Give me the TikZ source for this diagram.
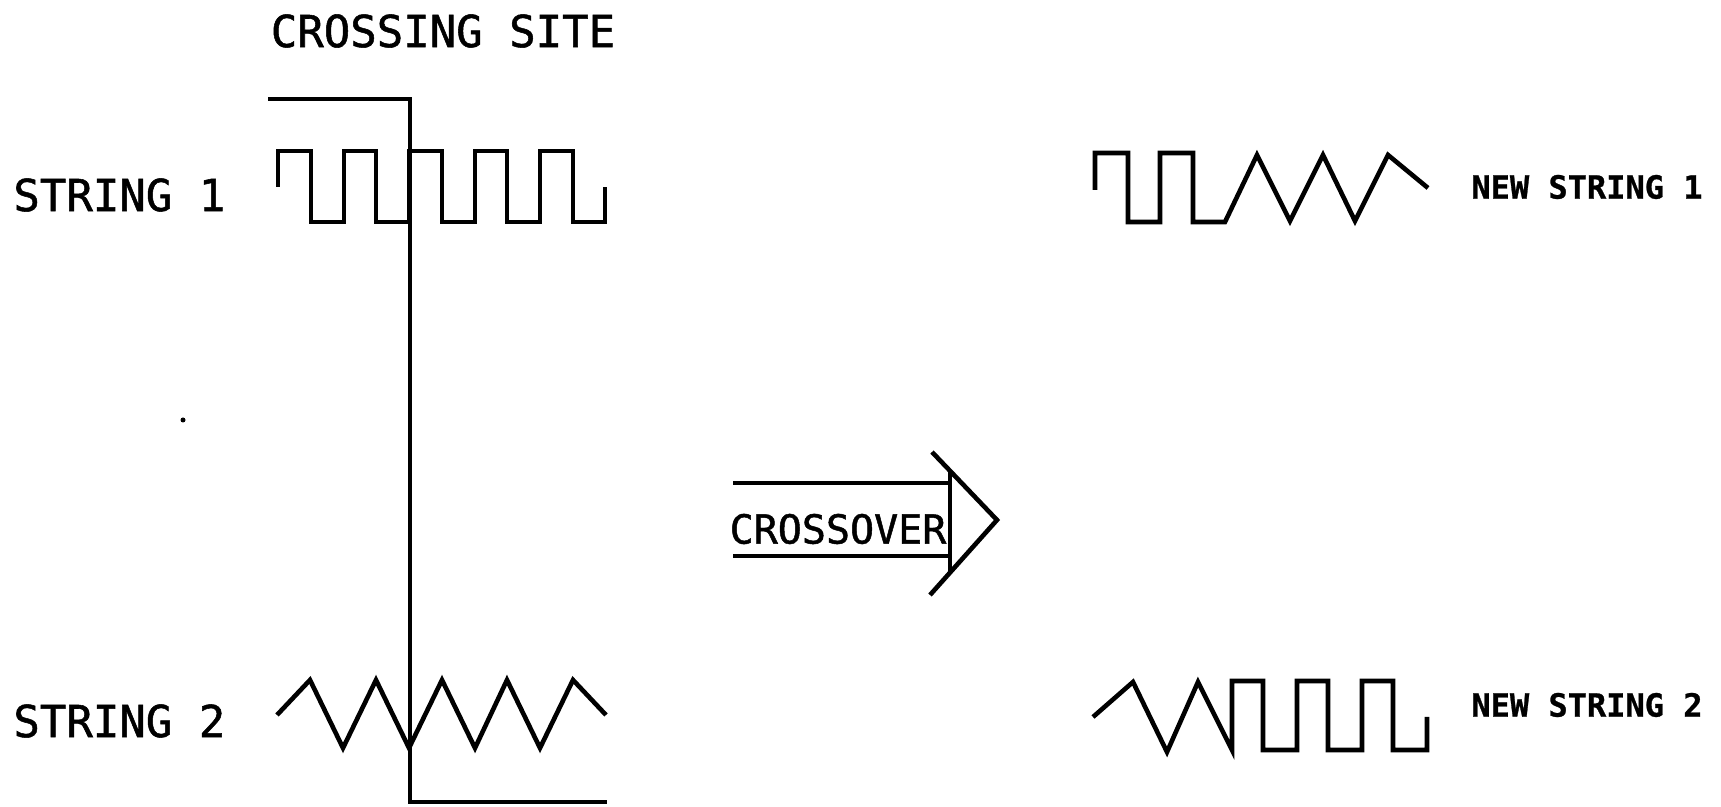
\documentclass[tikz,border=0pt]{standalone}
\usepackage{fontspec}
\newfontfamily\plotfont{DejaVu Sans Mono}[FakeBold=1.2]
\newfontfamily\plotbold{DejaVu Sans Mono Bold}[FakeBold=0.8]
\begin{document}
\begin{tikzpicture}[x=0.5pt,y=-0.5pt,
  wave/.style={line width=2.3pt,line join=miter},
  bigtext/.style={inner sep=0pt,font=\plotfont\fontsize{22}{26}\selectfont},
  arrowtext/.style={inner sep=0pt,font=\plotfont\fontsize{20}{24}\selectfont},
  smalltext/.style={inner sep=0pt,font=\plotbold\fontsize{16}{19}\selectfont}]
\useasboundingbox (0,0) rectangle (1721,807);
\fill[white] (0,0) rectangle (1721,807);

% labels
\node[bigtext] (site) at (443,31) {CROSSING SITE};
\node[bigtext,anchor=west] (s1) at (13,195) {STRING 1};
\node[bigtext,anchor=west] (s2) at (13,721) {STRING 2};
\node[smalltext,anchor=west] (n1) at (1471,187) {NEW STRING 1};
\node[smalltext,anchor=west] (n2) at (1471,705) {NEW STRING 2};

% crossing site marker
\coordinate (cA) at (268,99);
\coordinate (cB) at (410,99);
\coordinate (cC) at (410,802);
\coordinate (cD) at (607,802);
\draw[wave] (cA) -- (cB) -- (cC) -- (cD);

% string 1: square wave
\draw[wave] (278,187) -- (278,151) -- (311,151) -- (311,222) -- (344,222)
  -- (344,151) -- (376,151) -- (376,222) -- (409,222) -- (409,151)
  -- (442,151) -- (442,222) -- (475,222) -- (475,151) -- (507,151)
  -- (507,222) -- (540,222) -- (540,151) -- (573,151) -- (573,222)
  -- (605,222) -- (605,187);

% string 2: triangle wave
\draw[wave] (277,715) -- (310,680) -- (343,748) -- (376,680) -- (409,748)
  -- (442,680) -- (475,748) -- (507,680) -- (540,748) -- (573,680)
  -- (606,715);

% crossover arrow
\node[arrowtext] (xo) at (838,529) {CROSSOVER};
\coordinate (aT1) at (733,483);
\coordinate (aT2) at (950,483);
\coordinate (aB1) at (733,556);
\coordinate (aB2) at (950,556);
\coordinate (aV1) at (950,471);
\coordinate (aV2) at (950,572);
\coordinate (hU) at (932,452);
\coordinate (hT) at (997,520);
\coordinate (hL) at (930,595);
\draw[wave] (aT1) -- (aT2);
\draw[wave] (aB1) -- (aB2);
\draw[wave] (aV1) -- (aV2);
\draw[wave] (hU) -- (hT) -- (hL);

% new string 1: square head, triangle tail
\draw[wave] (1095,190) -- (1095,153) -- (1128,153) -- (1128,222) -- (1160,222)
  -- (1160,153) -- (1193,153) -- (1193,222) -- (1225,222) -- (1257,155)
  -- (1290,221) -- (1323,155) -- (1355,221) -- (1388,155) -- (1428,188);

% new string 2: triangle head, square tail
\draw[wave] (1093,717) -- (1133,682) -- (1167,752) -- (1198,682) -- (1232,750)
  -- (1232,681) -- (1263,681) -- (1263,750) -- (1297,750) -- (1297,681)
  -- (1328,681) -- (1328,750) -- (1362,750) -- (1362,681) -- (1393,681)
  -- (1393,750) -- (1427,750) -- (1427,717);

% speck
\fill (183,420) circle (2.5);
\end{tikzpicture}
\end{document}
